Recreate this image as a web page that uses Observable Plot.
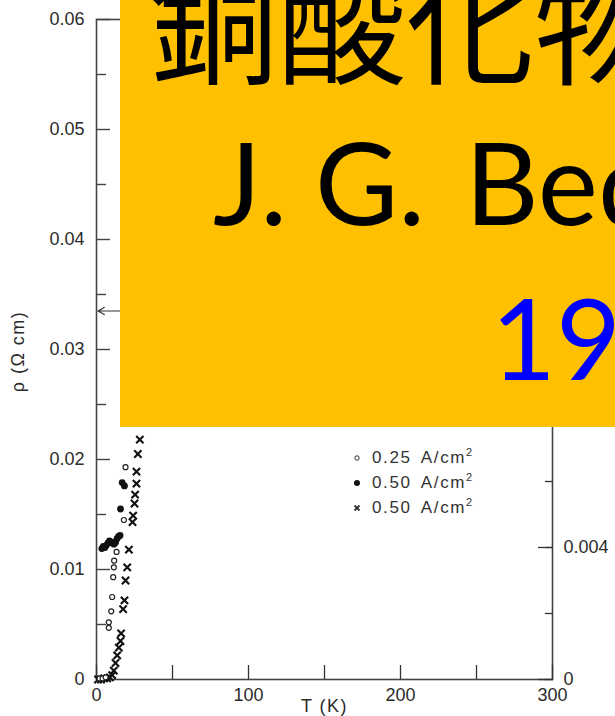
<!DOCTYPE html>
<html><head><meta charset="utf-8">
<script src="https://cdn.jsdelivr.net/npm/d3@7"></script>
<script src="https://cdn.jsdelivr.net/npm/@observablehq/plot@0.6"></script>
<style>
html,body{margin:0;padding:0;background:#fff;}
#wrap{position:relative;width:615px;height:716px;overflow:hidden;}
#chart{position:absolute;left:0;top:0;}
#chart .ttl text{letter-spacing:1.5px;}
#overlay{position:absolute;left:120px;top:0;width:495px;height:427px;background:#FFC000;overflow:hidden;}
#legend{position:absolute;left:352px;top:445px;font-family:"Liberation Sans",Arial,sans-serif;font-size:17px;color:#333;letter-spacing:1.6px;word-spacing:4px;}
#legend .row{display:flex;align-items:center;height:25px;white-space:nowrap;}
#legend svg{margin-right:10px;flex:none;}
</style></head><body>
<div id="wrap"><div id="chart"></div><div id="legend"></div><div id="overlay"></div></div>
<script>
// ---- data ----
// 0.25 A/cm2 (open circles)
const openT   = [2, 4, 6, 8.1, 8.1, 9.7, 10.3, 11.0, 11.4, 11.6, 12.5, 13.2, 18.0, 19.1];
const openRho = [0.0001, 0.0001, 0.0002, 0.0047, 0.0052, 0.0062, 0.0075, 0.0093, 0.0102, 0.0108, 0.0124, 0.0116, 0.0145, 0.0193];
// 0.50 A/cm2 (filled dots)
const filledT   = [3.5, 4.5, 5.5, 6.5, 7.5, 8.5, 9.5, 10.5, 11.5, 12.5, 13.5, 14.5, 15.5, 15.8, 16.9, 18.4];
const filledRho = [0.0119, 0.0121, 0.0120, 0.0122, 0.0124, 0.0126, 0.0125, 0.0124, 0.0123, 0.0125, 0.0128, 0.0130, 0.0131, 0.0155, 0.0179, 0.0176];
// 0.50 A/cm2 (crosses)
const crossT   = [1, 3, 5, 7, 8.8, 10.3, 11.4, 12.5, 13.6, 14.7, 15.8, 16.2, 17.5, 18.4, 19.1, 20.2, 21.3, 23.7, 24.1, 25.0, 25.4, 26.3, 26.3, 27.2, 28.5];
const crossRho = [0, 0, 0.0001, 0.0001, 0.0002, 0.0004, 0.0008, 0.0015, 0.0022, 0.0029, 0.0035, 0.0042, 0.0064, 0.0072, 0.0090, 0.0102, 0.0118, 0.0143, 0.0149, 0.0160, 0.0168, 0.0178, 0.0189, 0.0205, 0.0218];
// arrow marker on the left axis
const arrowT1 = [16], arrowT2 = [1], arrowRho = [0.0335];
// ticks
const xTicks = [0, 50, 100, 150, 200, 250, 300];
const xLabels = [0, 100, 200, 300];
const yMajor = [0, 0.01, 0.02, 0.03, 0.04, 0.05, 0.06];
const yMinor = [0.005, 0.015, 0.025, 0.035, 0.045, 0.055];
const rightTicks = [0, 0.002, 0.004, 0.006, 0.008, 0.010, 0.012, 0.014, 0.016, 0.018, 0.020];
const rightMajor = [0, 0.004, 0.008, 0.012, 0.016, 0.020];
const rightLabels = [0, 0.004];
const rightFactor = 0.06 / 0.02;
// texts
const legendLabels = ["0.25 A/cm²", "0.50 A/cm²", "0.50 A/cm²"];
const xTitle = "T (K)";
const yTitle = "ρ (Ω cm)";
const bannerLine1 = "銅酸化物";
const bannerLine2 = ["J.", "G.", "Bednorz"];
const bannerYear = "1986";

const zip = (T, R) => T.map((t, i) => ({T: t, rho: R[i]}));
const openData = zip(openT, openRho);
const filledData = zip(filledT, filledRho);
const crossData = zip(crossT, crossRho);
const arrowData = arrowT1.map((t, i) => ({T1: t, T2: arrowT2[i], rho: arrowRho[i]}));
const fmtLeft = d => d === 0 ? "0" : d3.format(".2f")(d);
const fmtRight = d => Math.abs(d) < 1e-12 ? "0" : d3.format(".3f")(d / rightFactor);
const blank = () => "";
const ink = "#2b2b2b";

const chart = Plot.plot({
  width: 615, height: 716,
  marginLeft: 96, marginRight: 63, marginTop: 19, marginBottom: 37,
  style: {fontFamily: '"Liberation Sans", Arial, sans-serif', fontSize: "18px", color: ink, background: "#fff"},
  x: {domain: [0, 300]},
  y: {domain: [0, 0.06]},
  marks: [
    Plot.frame({stroke: "#444", strokeWidth: 1.6}),
    // left axis
    Plot.axisY({anchor: "left", ticks: yMajor, tickSize: -14, tickFormat: blank, label: null, stroke: "#444", strokeWidth: 1.4}),
    Plot.axisY({anchor: "left", ticks: yMinor, tickSize: -10, tickFormat: blank, label: null, stroke: "#444", strokeWidth: 1.4}),
    Plot.axisY({anchor: "left", ticks: yMajor, tickSize: 0, tickPadding: 12, tickFormat: fmtLeft, label: null}),
    // bottom axis
    Plot.axisX({anchor: "bottom", ticks: xTicks, tickSize: -14, tickFormat: blank, label: null, stroke: "#333", strokeWidth: 1.3}),
    Plot.axisX({anchor: "bottom", ticks: xLabels, tickSize: 0, tickPadding: 9, tickFormat: d => String(d), label: null}),
    // right axis (second scale)
    Plot.axisY({anchor: "right", ticks: rightTicks.map(v => v * rightFactor), tickSize: -8, tickFormat: blank, label: null, stroke: "#333", strokeWidth: 1.3}),
    Plot.axisY({anchor: "right", ticks: rightMajor.map(v => v * rightFactor), tickSize: -15, tickFormat: blank, label: null, stroke: "#333", strokeWidth: 1.3}),
    Plot.axisY({anchor: "right", ticks: rightLabels.map(v => v * rightFactor), tickSize: 0, tickPadding: 11, tickFormat: fmtRight, label: null}),
    // titles
    Plot.text([yTitle], {frameAnchor: "left", textAnchor: "middle", lineAnchor: "middle", rotate: -90, dx: -78, dy: 2, fontSize: 18, fill: ink, className: "ttl"}),
    Plot.text([xTitle], {frameAnchor: "bottom", lineAnchor: "middle", dy: 27, fontSize: 18, fill: ink, className: "ttl"}),
    // arrow marker
    Plot.arrow(arrowData, {x1: "T1", y1: "rho", x2: "T2", y2: "rho", stroke: "#333", strokeWidth: 1.2, headLength: 9}),
    // data
    Plot.dot(crossData, {x: "T", y: "rho", symbol: "times", r: 3.4, stroke: "#111", strokeWidth: 2.1}),
    Plot.dot(openData, {x: "T", y: "rho", r: 2.5, stroke: "#222", strokeWidth: 1.2, fill: "white"}),
    Plot.dot(filledData, {x: "T", y: "rho", r: 3.4, fill: "#111"})
  ]
});
document.getElementById("chart").appendChild(chart);

// legend
const legendSymbols = [
  '<circle cx="5" cy="5" r="2.2" fill="white" stroke="#333" stroke-width="1"/>',
  '<circle cx="5" cy="5" r="3" fill="#111"/>',
  '<path d="M2.5,2.5L7.5,7.5M7.5,2.5L2.5,7.5" stroke="#333" stroke-width="1.8"/>'
];
const legend = document.getElementById("legend");
legendLabels.forEach((lab, i) => {
  const row = document.createElement("div");
  row.className = "row";
  row.innerHTML = `<svg width="10" height="10">${legendSymbols[i]}</svg><span>${lab.replace("²", "<sup style=\"font-size:11px;vertical-align:7px;line-height:0\">2</sup>")}</span>`;
  legend.appendChild(row);
});

// banner overlay
const ov = d3.select("#overlay").append("svg").attr("width", 495).attr("height", 427);
ov.append("text").attr("x", 30).attr("y", 75)
  .attr("font-family", '"Noto Sans CJK JP", "Noto Sans CJK SC", sans-serif')
  .attr("font-size", 128).attr("fill", "#000").text(bannerLine1);
const t2 = ov.append("text").attr("y", 225)
  .attr("font-family", 'Lato, "Open Sans", sans-serif').attr("font-size", 114).attr("fill", "#000");
const xs2 = [93, 195, 345];
bannerLine2.forEach((s, i) => t2.append("tspan").attr("x", xs2[i]).text(s));
ov.append("text").attr("x", 371).attr("y", 380)
  .attr("font-family", 'Lato, "Open Sans", sans-serif').attr("font-size", 112).attr("fill", "#0000FF").text(bannerYear);
</script>
</body></html>
